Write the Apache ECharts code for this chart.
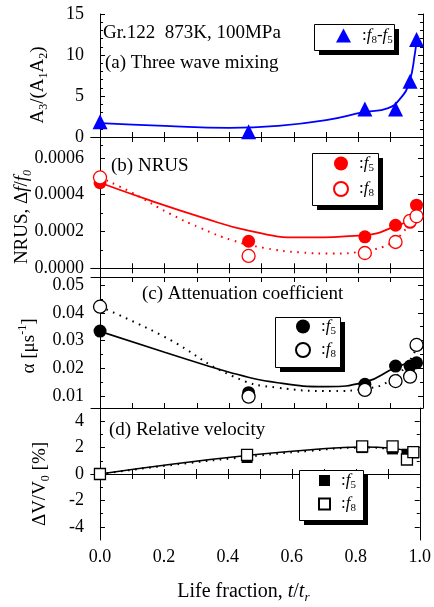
<!DOCTYPE html>
<html><head><meta charset="utf-8">
<script src="https://cdn.jsdelivr.net/npm/echarts@6/dist/echarts.min.js"></script>
<style>html,body{margin:0;padding:0;background:#fff}#c{width:434px;height:607px}</style>
</head><body><div id="c"></div>
<script>
// ---------- data ----------
const lifeX = [0, 0.46, 0.82, 0.915, 0.96, 0.98];

const mixF8F5 = [1.87, 0.65, 3.4, 3.4, 6.8, 11.9];
const mixFitX = [0, 0.2, 0.4, 0.55, 0.7, 0.82, 0.89, 0.93, 0.958, 0.975, 0.98];
const mixFitY = [1.7, 1.35, 1.12, 1.35, 2.05, 3.05, 3.5, 4.7, 6.75, 10.2, 11.8];

const nrusF5 = [0.000465, 0.000147, 0.000171, 0.000234, 0.000250, 0.000343];
const nrusF8 = [0.000494, 0.000067, 0.000083, 0.000143, 0.000258, 0.000283];
const nrusFit5X = [0, 0.15, 0.31, 0.46, 0.62, 0.82, 0.915, 0.96, 0.98];
const nrusFit5Y = [0.000465, 0.000372, 0.00028, 0.000205, 0.000168, 0.00018, 0.000229, 0.000268, 0.000334];
const nrusFit8X = [0, 0.1, 0.215, 0.31, 0.41, 0.51, 0.62, 0.72, 0.82, 0.9, 0.94, 0.96, 0.98];
const nrusFit8Y = [0.000494, 0.000410, 0.000298, 0.000220, 0.000152, 0.000110, 0.000086, 0.00008, 0.000095, 0.000135, 0.000200, 0.000250, 0.000283];

const attF5 = [0.0334, 0.0112, 0.0142, 0.0208, 0.0208, 0.0220];
const attF8 = [0.0422, 0.0098, 0.0122, 0.0154, 0.0170, 0.0284];
const attFit5X = [0, 0.2, 0.4, 0.55, 0.7, 0.82, 0.915, 0.98];
const attFit5Y = [0.0333, 0.0258, 0.0186, 0.0148, 0.0134, 0.0150, 0.0203, 0.0228];
const attFit8X = [0, 0.2, 0.41, 0.55, 0.72, 0.82, 0.9, 0.96, 0.98];
const attFit8Y = [0.0422, 0.0313, 0.0172, 0.0130, 0.0118, 0.0126, 0.0158, 0.0230, 0.0278];

const velF5 = [0, 1.25, 2.0, 1.9, 1.5, 1.6];
const velF8 = [0, 1.45, 2.1, 2.1, 1.1, 1.65];
const velFit5X = [0, 0.23, 0.46, 0.65, 0.82, 0.915, 0.98];
const velFit5Y = [0, 0.76, 1.4, 1.82, 2.05, 1.95, 1.6];
const velFit8X = [0, 0.23, 0.46, 0.65, 0.82, 0.915, 0.98];
const velFit8Y = [0, 0.70, 1.3, 1.74, 2.0, 1.88, 1.45];

const xTickVals = [0, 0.1, 0.2, 0.3, 0.4, 0.5, 0.6, 0.7, 0.8, 0.9, 1.0];
const xLabelVals = [0, 0.2, 0.4, 0.6, 0.8, 1.0];

const yMajor = [[0, 5, 10, 15], [0, 0.0002, 0.0004, 0.0006], [0.01, 0.02, 0.03, 0.04, 0.05], [-4, -2, 0, 2, 4]];
const yMinor = [[-1, 1, 2, 3, 4, 6, 7, 8, 9, 11, 12, 13, 14], [0.0001, 0.0003, 0.0005], [0.015, 0.025, 0.035, 0.045], [-3, -1, 1, 3]];
const yRange = [[-1.1, 15], [-0.0000474, 0.000665], [0.00568, 0.0529], [-5, 5]];
const yDecimals = [0, 4, 2, 0];

// ---------- helpers ----------
const FONT = '"Liberation Serif","Times New Roman",serif';
const pairs = (xs, ys) => xs.map((x, i) => [x, ys[i]]);
const richName = {
  n: {fontFamily: FONT, fontSize: 19, lineHeight: 24, verticalAlign: 'middle', color: '#000'},
  i: {fontFamily: FONT, fontSize: 19, lineHeight: 24, verticalAlign: 'middle', fontStyle: 'italic', color: '#000'},
  sub: {fontFamily: FONT, fontSize: 12, lineHeight: 12, verticalAlign: 'bottom', color: '#000'},
  isub: {fontFamily: FONT, fontSize: 12, lineHeight: 12, verticalAlign: 'bottom', fontStyle: 'italic', color: '#000'},
  sup: {fontFamily: FONT, fontSize: 12, lineHeight: 12, verticalAlign: 'top', color: '#000'}
};
const richX = {
  n: {fontFamily: FONT, fontSize: 20, lineHeight: 24, verticalAlign: 'middle', color: '#000'},
  i: {fontFamily: FONT, fontSize: 20, lineHeight: 24, verticalAlign: 'middle', fontStyle: 'italic', color: '#000'},
  isub: {fontFamily: FONT, fontSize: 13, lineHeight: 12, verticalAlign: 'bottom', fontStyle: 'italic', color: '#000'}
};
const richLegend = {
  g: {width: 6},
  c: {fontFamily: FONT, fontSize: 17, lineHeight: 20, verticalAlign: 'middle', color: '#000'},
  i: {fontFamily: FONT, fontSize: 17, lineHeight: 20, verticalAlign: 'middle', fontStyle: 'italic', color: '#000'},
  s: {fontFamily: FONT, fontSize: 11, lineHeight: 11, verticalAlign: 'bottom', color: '#000'}
};
const legendText = {
  mix: '{g|}{c|:}{i|f}{s|8}{c|-}{i|f}{s|5}',
  nrus5: '{g|}{c|:}{i|f}{s|5}', nrus8: '{g|}{c|:}{i|f}{s|8}',
  att5: '{g|}{c|:}{i|f}{s|5}', att8: '{g|}{c|:}{i|f}{s|8}',
  vel5: '{g|}{c|:}{i|f}{s|5}', vel8: '{g|}{c|:}{i|f}{s|8}'
};
const yNames = [
  '{n|A}{sub|3}{n|/(A}{sub|1}{n|A}{sub|2}{n|)}',
  '{n|NRUS, Δ}{i|f}{n|/}{i|f}{isub|0}',
  '{n|α [μs}{sup|-1}{n|]}',
  '{n|ΔV/V}{sub|0}{n| [%]}'
];
const yNamePos = [[38, 85], [22, 217], [29, 346], [40, 484]];

const grids = [
  {left: 91, right: 11, top: 14, height: 132},
  {left: 91, right: 11, top: 146, height: 131},
  {left: 91, right: 11, top: 277, height: 131},
  {left: 91, right: 11, top: 408, height: 132}
];

const xAxes = [], yAxes = [];
const axisLine = {show: true, lineStyle: {color: '#000', width: 1}};
grids.forEach((g, i) => {
  ['bottom', 'top'].forEach(pos => {
    const isMain = pos === 'bottom';
    xAxes.push({
      type: 'value', gridIndex: i, position: pos, min: -0.028, max: 1.0,
      axisLine, splitLine: {show: false},
      axisTick: {show: true, inside: true, length: 5, customValues: xTickVals, lineStyle: {color: '#000'}},
      axisLabel: {show: isMain && i === 3, customValues: xLabelVals, formatter: v => v.toFixed(1),
        margin: 8, fontFamily: FONT, fontSize: 18, color: '#000'},
      name: (isMain && i === 3) ? '{n|Life fraction, }{i|t}{n|/}{i|t}{isub|r}' : '',
      nameLocation: 'middle', nameGap: 40,
      nameTextStyle: {rich: richX, padding: [0, 24, 0, 0]}
    });
  });
  ['left', 'right'].forEach(pos => {
    [true, false].forEach(major => {
      yAxes.push({
        type: 'value', gridIndex: i, position: pos, min: yRange[i][0], max: yRange[i][1],
        axisLine: major ? axisLine : {show: false}, splitLine: {show: false},
        axisTick: {show: true, inside: true, length: major ? 5 : 3,
          customValues: major ? yMajor[i] : yMinor[i], lineStyle: {color: '#000'}},
        axisLabel: {show: major && pos === 'left', customValues: yMajor[i],
          formatter: v => v.toFixed(yDecimals[i]),
          margin: 7, fontFamily: FONT, fontSize: 18, color: '#000'}
      });
    });
  });
});

const BLUE = '#0000ff', RED = '#ff0000', BLACK = '#000000';
function scatter(name, gi, data, symbol, size, color, open) {
  return {
    name, type: 'scatter', xAxisIndex: 2 * gi, yAxisIndex: 4 * gi,
    data: pairs(lifeX, data), symbol, symbolSize: size, z: open ? 4 : 3,
    emphasis: {disabled: true},
    itemStyle: open ? {color: '#fff', borderColor: color, borderWidth: 1.3, opacity: 1}
                    : {color: color, borderColor: color, borderWidth: 0, opacity: 1}
  };
}
function curve(gi, xs, ys, color, dotted, w) {
  return {
    type: 'line', xAxisIndex: 2 * gi, yAxisIndex: 4 * gi, data: pairs(xs, ys),
    showSymbol: false, symbol: 'none', smooth: 0.5, z: 2, silent: true,
    lineStyle: {color, width: w || 1.6, type: dotted ? [1.6, 5.5] : 'solid'}
  };
}

const series = [
  curve(0, mixFitX, mixFitY, BLUE, false, 1.8),
  scatter('mix', 0, mixF8F5, 'triangle', 15, BLUE, false),
  curve(1, nrusFit5X, nrusFit5Y, RED, false, 1.8),
  curve(1, nrusFit8X, nrusFit8Y, RED, true, 2),
  scatter('nrus5', 1, nrusF5, 'circle', 13, RED, false),
  scatter('nrus8', 1, nrusF8, 'circle', 13, RED, true),
  curve(2, attFit5X, attFit5Y, BLACK, false, 1.6),
  curve(2, attFit8X, attFit8Y, BLACK, true, 2),
  scatter('att5', 2, attF5, 'circle', 13, BLACK, false),
  scatter('att8', 2, attF8, 'circle', 13, BLACK, true),
  curve(3, velFit5X, velFit5Y, BLACK, false, 1.6),
  curve(3, velFit8X, velFit8Y, BLACK, true, 2),
  scatter('vel5', 3, velF5, 'rect', 11, BLACK, false),
  scatter('vel8', 3, velF8, 'rect', 11, BLACK, true)
];

const legendBase = {
  orient: 'vertical', z: 20, padding: 0,
  itemWidth: 14, itemHeight: 14, selectedMode: false,
  formatter: n => legendText[n], textStyle: {rich: richLegend, fontFamily: FONT, fontSize: 17, color: '#000'}
};
const legends = [
  Object.assign({}, legendBase, {data: ['mix'], left: 336, top: 27, itemWidth: 15, itemHeight: 14}),
  Object.assign({}, legendBase, {data: ['nrus5', 'nrus8'], left: 333, top: 155, itemGap: 7}),
  Object.assign({}, legendBase, {data: ['att5', 'att8'], left: 295, top: 318, itemGap: 5}),
  Object.assign({}, legendBase, {data: ['vel5', 'vel8'], left: 318, top: 472, itemGap: 5, itemWidth: 11, itemHeight: 11})
];

const txt = (t, x, y) => ({type: 'text', x, y, z: 10,
  style: {text: t, font: '19px ' + FONT, fill: '#000', verticalAlign: 'middle', textVerticalAlign: 'middle'}});
const box = (x, y, w, h) => [
  {type: 'rect', z: 8, shape: {x: x + 5, y: y + 5, width: w, height: h}, style: {fill: '#000'}},
  {type: 'rect', z: 9, shape: {x: x + 0.5, y: y + 0.5, width: w, height: h}, style: {fill: '#fff', stroke: '#000', lineWidth: 1}}
];
const yNameTexts = yNames.map((t, i) => ({
  type: 'text', x: yNamePos[i][0], y: yNamePos[i][1], rotation: Math.PI / 2, z: 10,
  style: {text: t, rich: richName, align: 'center', verticalAlign: 'middle',
    textAlign: 'center', textVerticalAlign: 'middle', font: '19px ' + FONT, fill: '#000'}
}));

const option = {
  animation: false,
  backgroundColor: '#fff',
  grid: grids,
  xAxis: xAxes,
  yAxis: yAxes,
  legend: legends,
  series,
  graphic: [].concat(
    box(314, 24, 80, 26),
    box(312, 153, 66, 52),
    box(275, 317, 65, 50),
    box(299, 470, 64, 50),
    yNameTexts,
    [
      txt('Gr.122  873K, 100MPa', 103, 33),
      txt('(a) Three wave mixing', 105, 63),
      txt('(b) NRUS', 111, 166),
      txt('(c) Attenuation coefficient', 142, 294),
      txt('(d) Relative velocity', 109, 430)
    ])
};
const chart = echarts.init(document.getElementById('c'), null, {renderer: 'canvas'});
chart.setOption(option);
</script></body></html>
